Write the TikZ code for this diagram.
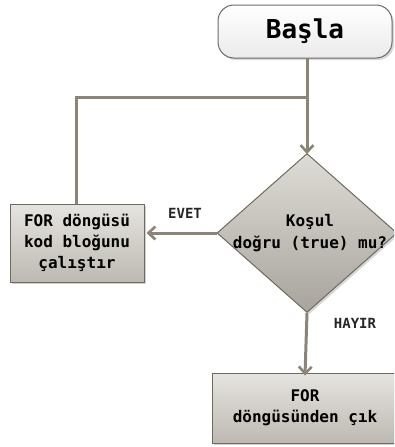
\documentclass[tikz,border=0pt]{standalone}
\usepackage{fontspec}
\setmonofont{DejaVu Sans Mono}
\usetikzlibrary{arrows.meta,shadows,shapes.geometric}
\definecolor{linec}{HTML}{8C8577}
\definecolor{edgec}{HTML}{6F6A60}
\definecolor{boxtop}{HTML}{E6E4E0}
\definecolor{boxbot}{HTML}{BDB9B2}
\definecolor{diatop}{HTML}{DEDCD6}
\definecolor{diabot}{HTML}{A8A49D}
\begin{document}
\begin{tikzpicture}[x=1pt,y=-1pt,
  txt/.style={font=\ttfamily\bfseries\fontsize{16}{21}\selectfont, text=black, align=center},
  flow/.style={draw=linec, line width=3pt, -{Straight Barb[length=7pt,width=13pt,line width=2.6pt]}},
  plain/.style={draw=linec, line width=3pt},
  procbox/.style={draw=edgec, line width=1pt, top color=boxtop, bottom color=boxbot,
     drop shadow={shadow xshift=2pt, shadow yshift=-2pt, opacity=0.35}},
  lbl/.style={font=\ttfamily\bfseries\fontsize{14}{16}\selectfont, text=black!85}
]
\useasboundingbox (0,0) rectangle (394,447);
\clip (0,0) rectangle (394,447);
\fill[white] (0,0) rectangle (394,447);

% start
\node[draw=edgec, line width=1pt, top color=white, bottom color=black!8, rounded corners=16pt,
  minimum width=174pt, minimum height=53pt, inner sep=0pt,
  drop shadow={shadow xshift=2pt, shadow yshift=-2pt, opacity=0.3},
  txt, font=\ttfamily\bfseries\fontsize{26}{30}\selectfont] (start) at (305,31.5) {Başla};
\coordinate (startb) at (307,58);

% diamond
\node[diamond, draw=edgec, line width=1pt, top color=diatop, bottom color=diabot,
  minimum width=180pt, minimum height=159pt, inner sep=0pt,
  drop shadow={shadow xshift=2pt, shadow yshift=-2pt, opacity=0.3}] (dia) at (307,233) {};
\node[txt] (cond) at (310,233) {Koşul\\[1pt]doğru (true) mu?};

% left box
\node[procbox, minimum width=134pt, minimum height=78pt, inner sep=0pt, txt] (loop) at (77,243)
  {FOR döngüsü\\kod bloğunu\\çalıştır};

% bottom box
\node[procbox, minimum width=186pt, minimum height=70pt, inner sep=0pt, txt] (exit) at (305,408)
  {FOR\\döngüsünden çık};

% junction
\coordinate (junc) at (307,97);
\coordinate (jleft) at (76,97);

% connectors
\draw[plain] (startb) -- (junc);
\draw[flow] (junc) -- ([yshift=-1pt]dia.north);
\draw[plain] (loop.north -| jleft) -- (jleft) -- (junc);
\draw[flow] (dia.west) -- ([xshift=2pt]loop.east |- dia.west);
\draw[flow] (dia.south) -- ([yshift=-3pt]exit.north);

\node[lbl] (evet) at (185,213) {EVET};
\node[lbl] (hayir) at (355,323) {HAYIR};
\end{tikzpicture}
\end{document}
